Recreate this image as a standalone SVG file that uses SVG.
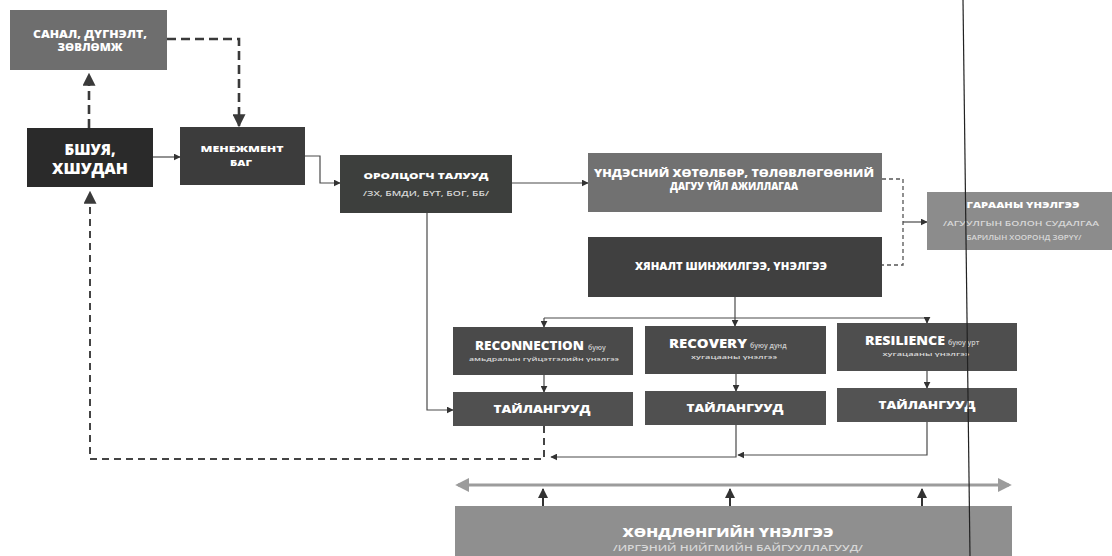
<svg xmlns="http://www.w3.org/2000/svg" width="1112" height="556" viewBox="0 0 1112 556">
<defs>
<style>
.t{font-family:"Open Sans","Liberation Sans",sans-serif;font-weight:800;fill:#fff;text-anchor:middle}
.a{font-family:"Open Sans","Liberation Sans",sans-serif;font-weight:800;fill:#fff;text-anchor:start}
.b{font-family:"Open Sans","Liberation Sans",sans-serif;font-weight:600;fill:#cfcfcf;text-anchor:start}
.s{font-family:"Open Sans","Liberation Sans",sans-serif;font-weight:600;fill:#d8d8d8;text-anchor:middle}
.c{fill:none;stroke:#4a4a4a;stroke-width:1.2}
.d{fill:none;stroke:#3a3a3a;stroke-width:2.6;stroke-dasharray:9 5}
.d2{fill:none;stroke:#444;stroke-width:2;stroke-dasharray:7 5}
.d3{fill:none;stroke:#555;stroke-width:1.3;stroke-dasharray:4 3}
.g{fill:none;stroke:#9c9c9c;stroke-width:3}
.u{fill:none;stroke:#333;stroke-width:2}
</style>
<marker id="big" viewBox="0 0 10 10" refX="9" refY="5" markerWidth="13" markerHeight="13" markerUnits="userSpaceOnUse" orient="auto"><path d="M0 0L10 5L0 10z" fill="#3a3a3a"/></marker>
<marker id="sm" viewBox="0 0 10 10" refX="9" refY="5" markerWidth="7" markerHeight="7" markerUnits="userSpaceOnUse" orient="auto"><path d="M0 0L10 5L0 10z" fill="#333"/></marker>
<marker id="gr" viewBox="0 0 10 10" refX="8" refY="5" markerWidth="14" markerHeight="14" markerUnits="userSpaceOnUse" orient="auto-start-reverse"><path d="M0 0L10 5L0 10z" fill="#9c9c9c"/></marker>
<marker id="up" viewBox="0 0 10 10" refX="9" refY="5" markerWidth="10" markerHeight="10" markerUnits="userSpaceOnUse" orient="auto"><path d="M0 0L10 5L0 10z" fill="#333"/></marker>
</defs>
<rect width="1112" height="556" fill="#fff"/>

<g id="connectors">
<path class="d" d="M89 128V74" marker-end="url(#big)"/>
<path class="d" d="M167 39H239V126" marker-end="url(#big)"/>
<path class="c" d="M153 157H180" marker-end="url(#sm)"/>
<path class="c" d="M305 156H320V183H340" marker-end="url(#sm)"/>
<path class="c" d="M512 183H588" marker-end="url(#sm)"/>
<path class="c" d="M427 213V410H453" marker-end="url(#sm)"/>
<path class="d3" d="M882 179H903V265H882"/>
<path class="c" d="M903 222H927" marker-end="url(#sm)"/>
<path class="c" d="M735 297V318"/>
<path class="c" d="M544 318H927"/>
<path class="c" d="M544 318V327" marker-end="url(#sm)"/>
<path class="c" d="M735 318V326" marker-end="url(#sm)"/>
<path class="c" d="M927 318V323" marker-end="url(#sm)"/>
<path class="c" d="M544 375V392" marker-end="url(#sm)"/>
<path class="c" d="M736 374V391" marker-end="url(#sm)"/>
<path class="c" d="M927 371V388" marker-end="url(#sm)"/>
<path class="d2" d="M544 426V459H90V192" marker-end="url(#big)"/>
<path class="c" d="M736 425V457H551" marker-end="url(#sm)"/>
<path class="c" d="M927 422V455H738" marker-end="url(#sm)"/>
<path class="g" d="M458 485H1009" marker-start="url(#gr)" marker-end="url(#gr)"/>
<path class="u" d="M543 506V489" marker-end="url(#up)"/>
<path class="u" d="M730 506V489" marker-end="url(#up)"/>
<path class="u" d="M922 506V489" marker-end="url(#up)"/>
</g>

<g id="n-sanal"><rect x="10" y="10" width="157" height="60" fill="#6e6e6e"/>
<text class="t" x="90" y="38" font-size="10" textLength="114" lengthAdjust="spacingAndGlyphs">САНАЛ, ДҮГНЭЛТ,</text>
<text class="t" x="90" y="51" font-size="10" textLength="65" lengthAdjust="spacingAndGlyphs">ЗӨВЛӨМЖ</text></g>

<g id="n-bshuya"><rect x="27" y="128" width="126" height="59" fill="#2a2a2a"/>
<text class="t" x="90" y="155" font-size="15">БШУЯ,</text>
<text class="t" x="90" y="174" font-size="15" textLength="76" lengthAdjust="spacingAndGlyphs">ХШУДАН</text></g>

<g id="n-menejment"><rect x="180" y="127" width="125" height="58" fill="#3c3c3c"/>
<text class="t" x="242" y="152" font-size="9.5" textLength="83" lengthAdjust="spacingAndGlyphs">МЕНЕЖМЕНТ</text>
<text class="t" x="241" y="166" font-size="9.5" textLength="22" lengthAdjust="spacingAndGlyphs">БАГ</text></g>

<g id="n-orolcogch"><rect x="340" y="155" width="172" height="58" fill="#3d3f3d"/>
<text class="t" x="426" y="179" font-size="9.5" textLength="125" lengthAdjust="spacingAndGlyphs">ОРОЛЦОГЧ ТАЛУУД</text>
<text class="s" x="426" y="196" font-size="7.5" textLength="126" lengthAdjust="spacingAndGlyphs">/ЗХ, БМДИ, БҮТ, БОГ, ББ/</text></g>

<g id="n-undesnii"><rect x="588" y="153" width="294" height="59" fill="#717171"/>
<text class="t" x="734" y="177" font-size="10" textLength="280" lengthAdjust="spacingAndGlyphs">ҮНДЭСНИЙ ХӨТӨЛБӨР, ТӨЛӨВЛӨГӨӨНИЙ</text>
<text class="t" x="734" y="190" font-size="10" textLength="128" lengthAdjust="spacingAndGlyphs">ДАГУУ ҮЙЛ АЖИЛЛАГАА</text></g>

<g id="n-hyanalt"><rect x="588" y="237" width="294" height="60" fill="#404040"/>
<text class="t" x="731" y="270" font-size="10" textLength="192" lengthAdjust="spacingAndGlyphs">ХЯНАЛТ ШИНЖИЛГЭЭ, ҮНЭЛГЭЭ</text></g>

<g id="n-garaany"><rect x="927" y="192" width="185" height="58" fill="#8c8c8c"/>
<text class="t" x="1023" y="208" font-size="8.5" textLength="113" lengthAdjust="spacingAndGlyphs">ГАРААНЫ ҮНЭЛГЭЭ</text>
<text class="s" x="1021" y="226" font-size="7.5" textLength="156" lengthAdjust="spacingAndGlyphs">/АГУУЛГЫН БОЛОН СУДАЛГАА</text>
<text class="s" x="1024" y="240" font-size="7.5" textLength="115" lengthAdjust="spacingAndGlyphs">БАРИЛЫН ХООРОНД ЗӨРҮҮ/</text></g>

<g id="n-reconnection"><rect x="453" y="327" width="180" height="48" fill="#4a4a4a"/>
<text class="a" x="475" y="350" font-size="12" textLength="109" lengthAdjust="spacingAndGlyphs">RECONNECTION</text>
<text class="b" x="588" y="350" font-size="7">буюу</text>
<text class="s" x="544" y="361" font-size="6" textLength="150" lengthAdjust="spacingAndGlyphs">амьдралын гүйцэтгэлийн үнэлгээ</text></g>

<g id="n-recovery"><rect x="645" y="326" width="181" height="48" fill="#4a4a4a"/>
<text class="a" x="669" y="348" font-size="12" textLength="78" lengthAdjust="spacingAndGlyphs">RECOVERY</text>
<text class="b" x="750" y="348" font-size="7">буюу дунд</text>
<text class="s" x="734" y="359" font-size="6" textLength="86" lengthAdjust="spacingAndGlyphs">хугацааны үнэлгээ</text></g>

<g id="n-resilience"><rect x="837" y="323" width="180" height="48" fill="#4e4e4e"/>
<text class="a" x="865" y="345" font-size="12" textLength="80" lengthAdjust="spacingAndGlyphs">RESILIENCE</text>
<text class="b" x="948" y="345" font-size="7">буюу урт</text>
<text class="s" x="926" y="356" font-size="6" textLength="87" lengthAdjust="spacingAndGlyphs">хугацааны үнэлгээ</text></g>

<g id="n-tailan1"><rect x="453" y="392" width="180" height="34" fill="#505050"/>
<text class="t" x="542" y="413" font-size="10" textLength="97" lengthAdjust="spacingAndGlyphs">ТАЙЛАНГУУД</text></g>
<g id="n-tailan2"><rect x="645" y="391" width="181" height="34" fill="#505050"/>
<text class="t" x="735" y="412" font-size="10" textLength="97" lengthAdjust="spacingAndGlyphs">ТАЙЛАНГУУД</text></g>
<g id="n-tailan3"><rect x="837" y="388" width="180" height="34" fill="#535353"/>
<text class="t" x="927" y="409" font-size="10" textLength="97" lengthAdjust="spacingAndGlyphs">ТАЙЛАНГУУД</text></g>

<g id="n-hondlongiin"><rect x="455" y="506" width="557" height="50" fill="#8f8f8f"/>
<text class="t" x="728" y="537" font-size="13" textLength="211" lengthAdjust="spacingAndGlyphs">ХӨНДЛӨНГИЙН ҮНЭЛГЭЭ</text>
<text class="s" x="738" y="551" font-size="9.5" fill="#bdbdbd" textLength="250" lengthAdjust="spacingAndGlyphs">/ИРГЭНИЙ НИЙГМИЙН БАЙГУУЛЛАГУУД/</text></g>

<path d="M963 0L970 556" stroke="#222" stroke-width="1.2" fill="none"/>
</svg>
